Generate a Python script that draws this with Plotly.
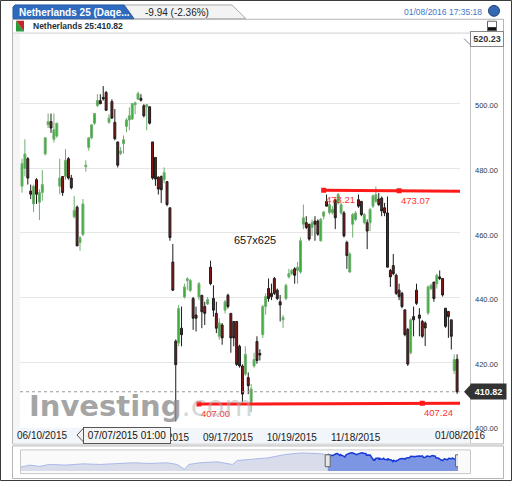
import pandas as pd
import plotly.graph_objects as go

W, H = 512, 487

# Euronext sessions shown, 10 Jun 2015 .. 8 Jan 2016
closed_days = ["2015-12-25", "2016-01-01"]
dates = [d for d in pd.bdate_range("2015-06-10", "2016-01-08").strftime("%Y-%m-%d")
         if d not in closed_days]

opens = [474.5, 480, 483, 473, 469, 476.5, 469.5, 472.5, 484.5, 493.5,
         494.5, 489, 490, 474.5, 477.5, 477.5, 483, 477, 465, 468,
         457, 459.5, 480.5, 486.5, 489.5, 494, 499.5, 501, 502, 503.5,
         494.3, 500.7, 494.3, 488.2, 484.6, 487.7, 493, 495, 495.3, 499.7,
         501.4, 501.7, 499.4, 499.1, 499.1, 488.2, 483.4, 477.3, 477.5, 476.5,
         475.9, 467.8, 451, 426.5, 425.9, 430.5, 440.2, 445.3, 442.2, 439.7,
         434.6, 440.2, 440.7, 437.2, 438, 449.4, 439.7, 435.1, 428, 431.5,
         436.1, 440.7, 435.1, 432.6, 432.6, 424.9, 418.8, 416.3, 415.2, 407.6,
         418.8, 426.4, 422.7, 428.5, 437.2, 442.8, 441.3, 445.9, 442.3, 438.7,
         433.1, 439.7, 446.4, 447.4, 448.9, 448.4, 447.9, 462.7, 463.2, 462.7,
         461.7, 463.7, 463.7, 457.6, 465.2, 469.8, 466.3, 466.3, 470.3, 469.3,
         466.2, 466.2, 457.1, 447.9, 462.7, 464.2, 470.3, 469.8, 463.2, 463.2,
         463.2, 468.3, 469.8, 470.5, 470.8, 467.8, 466.2, 448.4, 449.9, 446.9,
         442.3, 441.3, 436.2, 430.1, 422.9, 434.1, 442.3, 434.6, 432.6, 432.1,
         435.2, 442.8, 444.8, 444.3, 446.4, 445.9, 436.7, 435.7, 433.1, 417.4, 420.9]
highs = [483, 489, 483.5, 475, 475, 477, 473.5, 479.5, 489.5, 497,
         497, 497, 494, 483, 477.5, 486, 483.5, 478, 471.5, 468.5,
         459, 470.5, 482.5, 489.5, 493.5, 497, 503, 503, 505.5, 504,
         496.8, 501.4, 498.4, 488.2, 486.6, 490.2, 495.6, 498.9, 500.1, 500.7,
         503.8, 503, 499.9, 499.9, 499.1, 488.2, 483.4, 477.5, 477.8, 480.3,
         476, 467.8, 456.6, 427, 437.7, 437.2, 444.3, 446.3, 445.8, 440.2,
         437.2, 444.8, 440.7, 438.7, 440.2, 451.4, 443.8, 438.7, 433.6, 432.1,
         439.2, 441.2, 435.1, 432.6, 432.6, 425.4, 419.3, 424.9, 416.8, 413.2,
         422.9, 428, 424, 437.7, 441.3, 445.9, 444.3, 446.4, 442.8, 440.8,
         434.6, 444.3, 448.9, 448.9, 449.4, 451, 458.6, 468.8, 465.2, 462.7,
         464.2, 465.2, 464.2, 464.7, 466.8, 471.9, 469.3, 468.3, 470.3, 472.4,
         469.3, 466.8, 457.6, 454, 466.2, 466.8, 471.9, 469.8, 466.2, 464.2,
         467.8, 471.9, 474.4, 472.4, 471.3, 469.3, 471.3, 448.9, 453.5, 447.4,
         444.3, 441.8, 436.2, 430.6, 433.6, 437.2, 444.3, 436.7, 433.1, 432.6,
         443.8, 444.3, 444.8, 447.4, 448.4, 445.9, 436.7, 435.7, 433.1, 422.4, 422.4]
lows = [472.5, 477.5, 475, 470.5, 466.5, 469, 464, 470, 484, 492.5,
        491, 488, 489.5, 472, 471.5, 476.5, 476.5, 473.5, 464.5, 456,
        454.5, 459, 479, 485.5, 489, 493.5, 499, 500, 501, 498,
        493.8, 495.3, 488.7, 480.3, 484.1, 484.6, 491.2, 491.8, 495, 496.8,
        501.4, 500.7, 495.8, 491.8, 493.6, 476.5, 474.6, 471.9, 469.3, 475.4,
        468.3, 457.6, 442, 401.6, 424.9, 424.9, 439.7, 442.3, 441.7, 430,
        429.5, 439.2, 430.5, 431.5, 437.7, 443.8, 434.1, 429, 427, 425.4,
        435.1, 436.6, 422.9, 424.9, 418.8, 418.3, 407.6, 415.8, 410.1, 404.5,
        418.3, 419.5, 420.5, 427.5, 434.7, 438.7, 439.2, 440.8, 439.2, 432.6,
        430.6, 439.2, 445.9, 446.9, 444.3, 444.3, 447.4, 461.2, 461.2, 457.6,
        459.1, 457.6, 459.1, 457.3, 464.2, 468.3, 465.7, 465.7, 461.2, 468.8,
        465.7, 458.6, 448.9, 447.7, 458.6, 463.7, 467.8, 465.2, 462.7, 455,
        460.6, 467.8, 469.3, 468.3, 465.2, 465.2, 449.4, 443.3, 446.9, 440.8,
        439.2, 436.7, 428, 418.8, 422.4, 428, 437.7, 428, 427.5, 425,
        434.6, 442.3, 438.7, 442.8, 445.4, 440.3, 430.6, 427.5, 423.9, 416.3, 410.2]
closes = [481.5, 484.5, 477, 472, 474.5, 472, 472.5, 475, 489.5, 494.5,
          492.5, 492, 494, 477, 472.5, 482.5, 477, 474, 467, 456,
          458.5, 469, 481, 489.5, 493.5, 497, 501, 500, 501.5, 498,
          495.6, 495.6, 489.2, 481.0, 485.4, 488.9, 495, 496.3, 500.1, 500.3,
          503.2, 501.1, 496.3, 499.7, 494, 477, 476.7, 473.6, 473.4, 478.7,
          468.8, 458.6, 442.3, 419.2, 436.6, 428.5, 443.3, 445.8, 445.3, 433.6,
          433.6, 444.3, 435.6, 435.1, 439.4, 444.3, 436.1, 430.5, 432.1, 427.5,
          438.7, 437.2, 427.5, 427.5, 419.3, 418.8, 410.1, 422.4, 412.7, 411.7,
          420.8, 420.5, 422.2, 437.2, 440.3, 439.7, 440.3, 441.3, 439.7, 437.7,
          433.8, 443.8, 447.4, 448.4, 446.9, 449.4, 457.6, 464.7, 461.7, 458.1,
          463.2, 462.7, 459.6, 464.2, 466.5, 468.3, 468.8, 467.3, 464.7, 471.9,
          468.8, 459.1, 453.0, 453.5, 465.7, 466.2, 468.3, 465.7, 465.7, 460.6,
          467.3, 471.5, 471.9, 468.8, 466.8, 466.2, 449.4, 446.4, 447.4, 441.3,
          440.3, 437.2, 428.5, 419.4, 433.1, 433.1, 438.2, 433.6, 428, 430.6,
          443.3, 443.8, 439.7, 446.9, 445.9, 440.8, 431.1, 434.1, 428, 420.76, 410.82]

# x labels: one every 22 sessions, the first/last ones are clamped to the edges
tick_dates = ["2015-08-18", "2015-09-17", "2015-10-19", "2015-11-18"]
edge_dates = ["2015-06-10", "2016-01-08"]

# drawn support / resistance lines
support_dates = ["2015-09-03", "2015-12-21"]
support_vals = [407.00, 407.24]
resist_dates = ["2015-11-03", "2015-12-09"]
resist_vals = [473.21, 473.07]

y_ticks = [400, 420, 440, 460, 480, 500]
y_top = 520.23
y_bottom = 399.7

# navigator history before the selected window
nav_dates = ["2014-01-27", "2014-02-10", "2014-02-26", "2014-03-14", "2014-04-10",
             "2014-05-08", "2014-06-04", "2014-07-01", "2014-07-29", "2014-08-25",
             "2014-09-22", "2014-10-08", "2014-10-20", "2014-10-27", "2014-11-14",
             "2014-12-12", "2014-12-29", "2015-01-06", "2015-01-14", "2015-02-05",
             "2015-03-05", "2015-04-01", "2015-04-28", "2015-05-26", "2015-06-09"]
nav_vals = [352, 372.6, 359, 379.5, 372.6, 386, 379.5, 386, 396.7, 390,
            396.7, 379.5, 328, 379.5, 396.7, 407, 393, 379.5, 420.7, 431,
            448, 482.5, 499.7, 492.8, 482.5]

tooltip_text = "07/07/2015 01:00"
header_time = "01/08/2016 17:35:18"
change_text = "-9.94 (-2.36%)"

FONT = "Liberation Sans, Arial, sans-serif"


def px(x):
    return x / W


def py(y):
    return 1 - y / H


def poly(points):
    return "M " + " L ".join(f"{px(x):.5f},{py(y):.5f}" for x, y in points) + " Z"


def fmt(d):
    return pd.Timestamp(d).strftime("%m/%d/%Y")


idx = list(range(len(dates)))
x_min, x_max = -0.69, 151.0

fig = go.Figure()

fig.add_trace(go.Candlestick(
    x=idx, open=opens, high=highs, low=lows, close=closes,
    increasing=dict(fillcolor="#34ad34", line=dict(color="#6fae6f", width=1)),
    decreasing=dict(fillcolor="#8e1515", line=dict(color="#1c1c1c", width=1)),
    whiskerwidth=0, showlegend=False, hoverinfo="skip"))


def trend(ds, vs):
    a, b = dates.index(ds[0]), dates.index(ds[1])
    slope = (vs[1] - vs[0]) / (b - a)
    return a, b, [a, x_max], [vs[0], vs[0] + slope * (x_max - a)]


annotations = []
for ds, vs in [(support_dates, support_vals), (resist_dates, resist_vals)]:
    a, b, lx, ly = trend(ds, vs)
    fig.add_trace(go.Scatter(x=lx, y=ly, mode="lines", line=dict(color="#ff1a1a", width=3),
                             showlegend=False, hoverinfo="skip"))
    fig.add_trace(go.Scatter(x=[a, b], y=vs, mode="markers",
                             marker=dict(symbol="square", size=5, color="#ff1a1a"),
                             showlegend=False, hoverinfo="skip"))
    for xi, v in zip([a, b], vs):
        annotations.append(dict(x=xi, y=v, xref="x", yref="y", text=f"{v:.2f}", showarrow=False,
                                xanchor="left", yanchor="top", yshift=-2,
                                font=dict(family=FONT, size=9.5, color="#ff3030")))

# navigator
fig.add_trace(go.Scatter(x=nav_dates + [dates[0]], y=nav_vals + [closes[0]], mode="lines",
                         line=dict(color="#a9b8e8", width=1), fill="tozeroy", fillcolor="#d9dcea",
                         xaxis="x2", yaxis="y2", showlegend=False, hoverinfo="skip"))
fig.add_trace(go.Scatter(x=dates, y=closes, mode="lines",
                         line=dict(color="#1638d8", width=1.5), fill="tozeroy", fillcolor="#7d96e4",
                         xaxis="x2", yaxis="y2", showlegend=False, hoverinfo="skip"))

shapes = [
    # window border and panels
    dict(type="rect", xref="paper", yref="paper", x0=px(0.5), x1=px(511.5), y0=py(0.5), y1=py(486.5),
         line=dict(color="#3a3a3a", width=1)),
    dict(type="rect", xref="paper", yref="paper", x0=px(12.5), x1=px(503.5), y0=py(19.5), y1=py(449.5),
         line=dict(color="#b5b5b5", width=1), layer="below"),
    dict(type="rect", xref="paper", yref="paper", x0=px(13), x1=px(470), y0=py(433), y1=py(449),
         fillcolor="#f2f5f9", line=dict(width=0), layer="below"),
    dict(type="rect", xref="paper", yref="paper", x0=px(13), x1=px(20), y0=py(34), y1=py(433),
         fillcolor="#f5f5f5", line=dict(width=0), layer="below"),
    dict(type="line", xref="paper", yref="paper", x0=px(13), x1=px(470), y0=py(33.5), y1=py(33.5),
         line=dict(color="#d0d0d0", width=1)),
    dict(type="line", xref="paper", yref="paper", x0=px(470.5), x1=px(470.5), y0=py(33), y1=py(449),
         line=dict(color="#c8c8c8", width=1)),
    dict(type="rect", xref="paper", yref="paper", x0=px(12.5), x1=px(503.5), y0=py(451.5), y1=py(484.5),
         line=dict(color="#b5b5b5", width=1), layer="below"),
    dict(type="rect", xref="paper", yref="paper", x0=px(20.5), x1=px(470.5), y0=py(455.5), y1=py(479.5),
         line=dict(color="#c8c8c8", width=1), fillcolor="#fafafa", layer="below"),
    # tabs
    dict(type="path", xref="paper", yref="paper",
         path=poly([(124, 5), (232, 5), (246, 19), (134, 19)]),
         fillcolor="#f3f3f3", line=dict(color="#a8a8a8", width=1)),
    dict(type="path", xref="paper", yref="paper",
         path=poly([(13, 19), (13, 7), (15, 5), (124, 5), (134, 19)]),
         fillcolor="#2e6bbf", line=dict(color="#245aa5", width=1)),
    # globe and maximise button
    dict(type="circle", xref="paper", yref="paper", x0=px(488.5), x1=px(499.5), y0=py(5.5), y1=py(16.5),
         fillcolor="#3568b3", line=dict(color="#1d3f78", width=1)),
    dict(type="rect", xref="paper", yref="paper", x0=px(487.5), x1=px(496.5), y0=py(21.5), y1=py(31.5),
         fillcolor="white", line=dict(color="#666", width=1)),
    dict(type="rect", xref="paper", yref="paper", x0=px(488), x1=px(496), y0=py(27.5), y1=py(31),
         fillcolor="#111", line=dict(width=0)),
    # instrument icon
    dict(type="path", xref="paper", yref="paper", path=poly([(16, 21), (24, 21), (24, 32)]),
         fillcolor="#c4262c", line=dict(width=0)),
    dict(type="path", xref="paper", yref="paper", path=poly([(16, 21), (24, 32), (16, 32)]),
         fillcolor="#2b9a3b", line=dict(width=0)),
    # last price dotted line
    dict(type="line", xref="paper", yref="y", x0=px(20), x1=px(460), y0=closes[-1], y1=closes[-1],
         line=dict(color="#999", width=1, dash="dot")),
    # callout pointers
    dict(type="path", xref="paper", yref="y", ysizemode="pixel", yanchor=y_top,
         path=f"M {px(471):.5f},-7 L {px(464):.5f},0 L {px(471):.5f},7 Z",
         fillcolor="white", line=dict(color="#888", width=1)),
    dict(type="path", xref="paper", yref="y", ysizemode="pixel", yanchor=closes[-1],
         path=f"M {px(471):.5f},-7.5 L {px(464):.5f},0 L {px(471):.5f},7.5 Z",
         fillcolor="#333", line=dict(width=0)),
    dict(type="path", xref="paper", yref="paper",
         path=poly([(84, 433), (77, 440.5), (84, 448)]),
         fillcolor="#f4f4f4", line=dict(color="#555", width=1)),
]

# navigator handles at the window ends
for d in [dates[0], dates[-1]]:
    shapes.append(dict(type="rect", xref="x2", yref="paper", xsizemode="pixel", xanchor=d,
                       x0=-2.5, x1=2.5, y0=py(472.5), y1=py(460.5),
                       fillcolor="#e6e6e6", line=dict(color="#666", width=1)))

annotations += [
    dict(x=px(17), y=py(12.5), xref="paper", yref="paper", xanchor="left", yanchor="middle",
         text="<b>Netherlands 25 (Daqe...</b>", showarrow=False,
         font=dict(family=FONT, size=10, color="white")),
    dict(x=px(143), y=py(12.5), xref="paper", yref="paper", xanchor="left", yanchor="middle",
         text=change_text, showarrow=False, font=dict(family=FONT, size=10, color="#222")),
    dict(x=px(484), y=py(12), xref="paper", yref="paper", xanchor="right", yanchor="middle",
         text=header_time, showarrow=False, font=dict(family=FONT, size=8.5, color="#3e78c2")),
    dict(x=px(31), y=py(26.5), xref="paper", yref="paper", xanchor="left", yanchor="middle",
         text=f"<b>Netherlands 25:{closes[-1]:.2f}</b>", showarrow=False,
         font=dict(family=FONT, size=8.5, color="#1c2f3a")),
    dict(x=px(470), y=y_top, xref="paper", yref="y", xanchor="left", yanchor="middle",
         text=f"<b>{y_top:.2f}</b>", showarrow=False, width=30, height=12,
         bgcolor="white", bordercolor="#888", borderwidth=1,
         font=dict(family=FONT, size=9, color="#333")),
    dict(x=px(470), y=closes[-1], xref="paper", yref="y", xanchor="left", yanchor="middle",
         text=f"<b>{closes[-1]:.2f}</b>", showarrow=False, width=33, height=13, bgcolor="#333",
         font=dict(family=FONT, size=9, color="white")),
    dict(x=px(83), y=py(440.5), xref="paper", yref="paper", xanchor="left", yanchor="middle",
         text=tooltip_text, showarrow=False, width=84, height=13, bgcolor="#f4f4f4",
         bordercolor="#555", borderwidth=1, font=dict(family=FONT, size=10, color="#111")),
    dict(x=px(255), y=py(243), xref="paper", yref="paper", xanchor="center", yanchor="middle",
         text="657x625", showarrow=False, font=dict(family=FONT, size=11, color="#111")),
    dict(x=px(27), y=py(411), xref="paper", yref="paper", xanchor="left", yanchor="middle",
         text="<b>Investing</b><span style='color:rgba(175,175,175,0.65)'>.com</span>",
         showarrow=False, font=dict(family="DejaVu Sans", size=29, color="rgba(140,140,140,0.8)")),
]

# edge date labels, clamped inside the chart like the original widget
for d, anchor, shift in [(edge_dates[0], "left", -7), (edge_dates[1], "right", 30)]:
    annotations.append(dict(x=dates.index(d), y=py(441), xref="x", yref="paper",
                            xanchor=anchor, yanchor="middle", xshift=shift, text=fmt(d),
                            showarrow=False, font=dict(family=FONT, size=10, color="#1a1a1a")))

fig.update_layout(
    width=W, height=H, autosize=False,
    margin=dict(l=0, r=0, t=0, b=0),
    paper_bgcolor="white", plot_bgcolor="white",
    hovermode=False, showlegend=False, boxgap=0.05,
    xaxis=dict(domain=[px(20), px(460)], range=[x_min, x_max], rangeslider=dict(visible=False),
               tickvals=[dates.index(d) for d in tick_dates], ticktext=[fmt(d) for d in tick_dates],
               tickfont=dict(family=FONT, size=10, color="#1a1a1a"), ticks="",
               ticklabelstandoff=2,
               showgrid=False, zeroline=False, showline=False, fixedrange=True),
    yaxis=dict(domain=[py(433), py(39)], range=[y_bottom, y_top], side="right",
               tickvals=y_ticks, ticktext=[f"{v:.2f}" for v in y_ticks],
               tickfont=dict(family=FONT, size=7.5, color="#2b3a4a"), ticks="",
               ticklabelstandoff=14, ticklabelshift=2, gridcolor="#e6e6e6",
               zeroline=False, showline=False, fixedrange=True),
    xaxis2=dict(domain=[px(21), px(458)], anchor="y2", type="date",
                range=[nav_dates[0], dates[-1]], visible=False, fixedrange=True),
    yaxis2=dict(domain=[py(477), py(457)], anchor="x2", range=[310, 516], visible=False,
                fixedrange=True),
    shapes=shapes,
    annotations=annotations,
)

# the page's default body margin would push the 512x487 figure off the window
fig.write_html("out.html", config={"displayModeBar": False},
               post_script="document.body.style.margin='0';")
